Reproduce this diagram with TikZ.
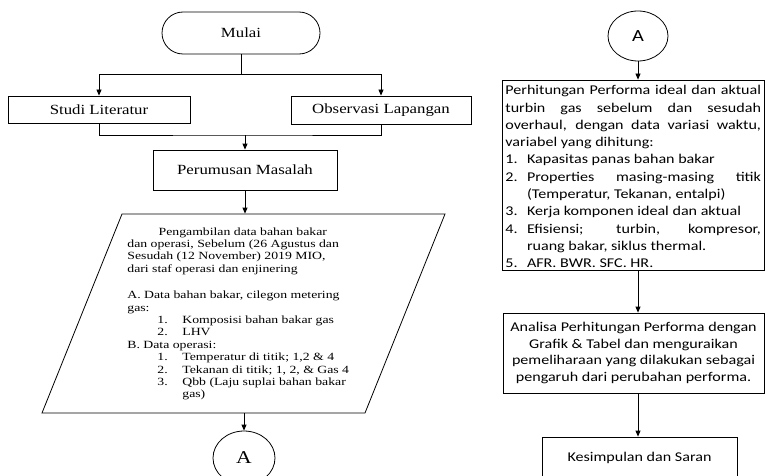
\documentclass[tikz,border=0pt]{standalone}
\usepackage{graphicx}
\usepackage{fontspec}
\setmainfont{Liberation Serif}
\newfontfamily\carlito{Carlito}
\usetikzlibrary{arrows.meta,shapes.geometric,shapes.misc}
\newcommand{\hsc}[1]{\scalebox{1.2}[1]{#1}}
\newcommand{\hsl}[1]{\scalebox{1.25}[1]{#1}}
\begin{document}
\begin{tikzpicture}[x=1pt,y=-1pt,line width=0.8pt,
  arr/.style={-{Triangle[length=6pt,width=5pt]}},
  lbox/.style={draw,rectangle,inner sep=0pt,font=\fontsize{14}{16.8}\selectfont},
  rbox/.style={draw,rectangle,inner sep=0pt,font=\carlito\fontsize{13.4}{16.5}\selectfont}]
\useasboundingbox (0,0) rectangle (765,476);
\clip (0,0) rectangle (765,476);

% ---------- left column ----------
\node[draw,rounded rectangle,minimum width=158pt,minimum height=42pt,inner sep=0pt,
      font=\fontsize{14}{16.8}\selectfont] (mulai) at (241,33) {\hsc{Mulai}};
\node[lbox,minimum width=182pt,minimum height=27pt] (studi) at (99,109.5) {\hsc{Studi Literatur}};
\node[lbox,minimum width=180pt,minimum height=28pt] (obs) at (381,110) {\hsc{Observasi Lapangan}};
\node[lbox,minimum width=184pt,minimum height=40pt] (pm) at (245,170) {\hsc{Perumusan Masalah}};

\coordinate (split) at (241,74);
\draw (mulai.south) -- (split);
\draw[arr] (split) -| (studi.north);
\draw[arr] (split) -| (obs.north);
\coordinate (join) at (245,135);
\draw (studi.south) |- (join) -| (obs.south);
\draw[arr] (join) -- (pm.north);

% parallelogram (input/output)
\draw (122,214) -- (445,214) -- (365,413) -- (42,413) -- cycle;
\node[minimum width=2pt,minimum height=199pt,inner sep=0pt] (par) at (244,313.5) {};
\draw[arr] (pm.south) -- (pm.south |- par.north);
\node[anchor=north west,inner sep=0pt,font=\fontsize{11}{12.4}\selectfont] (ptext) at (127,227)
{\hsl{\parbox[t]{190pt}{\raggedright
\hspace*{25pt}Pengambilan data bahan bakar\\
dan operasi, Sebelum (26 Agustus dan\\
Sesudah (12 November) 2019 MIO,\\
dari staf operasi dan enjinering\\[14pt]
A. Data bahan bakar, cilegon metering\\
gas:\\
\hspace*{24pt}\makebox[20pt][l]{1.}Komposisi bahan bakar gas\\
\hspace*{24pt}\makebox[20pt][l]{2.}LHV\\
B. Data operasi:\\
\hspace*{24pt}\makebox[20pt][l]{1.}Temperatur di titik; 1,2 \& 4\\
\hspace*{24pt}\makebox[20pt][l]{2.}Tekanan di titik; 1, 2, \& Gas 4\\
\hspace*{24pt}\makebox[20pt][l]{3.}Qbb (Laju suplai bahan bakar\\
\hspace*{44pt}gas)}}};
\node[draw,ellipse,minimum width=62pt,minimum height=54pt,inner sep=0pt,
      font=\fontsize{18}{21}\selectfont] (A1) at (244,458) {\hsc{A}};
\draw[arr] (par.south) -- (A1.north);

% ---------- right column ----------
\node[draw,ellipse,minimum width=60pt,minimum height=50pt,inner sep=0pt,
      font=\carlito\fontsize{17}{20}\selectfont] (A2) at (638,36) {\hsc{A}};
\node[rbox,minimum width=262pt,minimum height=190pt] (b1) at (633,175) {};
\node[anchor=north west,inner sep=0pt,font=\carlito\fontsize{13.4}{17.3}\selectfont] (b1text) at (505,85)
{\hsc{\parbox[t]{213pt}{\tolerance=10000\parindent=0pt
Perhitungan Performa ideal dan aktual\linebreak
turbin gas sebelum dan sesudah\linebreak
overhaul, dengan data variasi waktu,\linebreak
variabel yang dihitung:\par
\hangindent=18pt\hangafter=1\noindent\makebox[18pt][l]{1.}Kapasitas panas bahan bakar\par
\hangindent=18pt\hangafter=1\noindent\makebox[18pt][l]{2.}Properties masing-masing titik\linebreak
(Temperatur, Tekanan, entalpi)\par
\hangindent=18pt\hangafter=1\noindent\makebox[18pt][l]{3.}Kerja komponen ideal dan aktual\par
\hangindent=18pt\hangafter=1\noindent\makebox[18pt][l]{4.}Efisiensi; turbin, kompresor,\linebreak
ruang bakar, siklus thermal.\par
\hangindent=18pt\hangafter=1\noindent\makebox[18pt][l]{5.}AFR. BWR. SFC. HR.}}};
\node[rbox,minimum width=261pt,minimum height=80pt] (b2) at (633.5,353)
{\hsc{\begin{tabular}{@{}c@{}}Analisa Perhitungan Performa dengan\\
Grafik \& Tabel dan menguraikan\\
pemeliharaan yang dilakukan sebagai\\
pengaruh dari perubahan performa.\end{tabular}}};
\node[rbox,minimum width=195pt,minimum height=41pt] (b3) at (639.5,457.5) {\hsc{Kesimpulan dan Saran}};

\draw[arr] (A2.south) -- (A2.south |- b1.north);
\draw[arr] (A2.south |- b1.south) -- (A2.south |- b2.north);
\draw[arr] (A2.south |- b2.south) -- (A2.south |- b3.north);
\end{tikzpicture}
\end{document}
